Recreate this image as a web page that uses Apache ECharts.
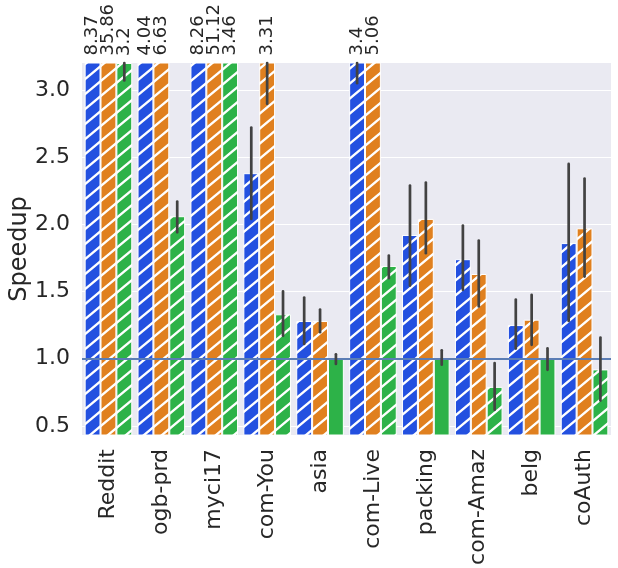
<!DOCTYPE html>
<html>
<head>
<meta charset="utf-8">
<script src="https://cdn.jsdelivr.net/npm/echarts@6/dist/echarts.min.js"></script>
<style>
html,body{margin:0;padding:0;background:#fff;}
#chart{width:618px;height:568px;}
</style>
</head>
<body>
<div id="chart"></div>
<script>
const categories = ['Reddit','ogb-prd','myci17','com-You','asia','com-Live','packing','com-Amaz','belg','coAuth'];
const blueValues   = [8.37, 4.04, 8.26, 2.38, 1.28, 3.4, 1.92, 1.74, 1.25, 1.86];
const orangeValues = [35.86, 6.63, 51.12, 3.31, 1.28, 5.06, 2.04, 1.63, 1.29, 1.97];
const greenValues  = [3.2, 2.06, 3.46, 1.33, 1.0, 1.69, 1.0, 0.79, 1.0, 0.92];
const blueErr   = [null, null, null, [2.04,2.72], [1.11,1.455], [3.05,3.75], [1.544,2.288], [1.512,1.99], [1.075,1.44], [1.281,2.449]];
const orangeErr = [null, null, null, [2.896,3.72], [1.197,1.365], null, [1.785,2.31], [1.388,1.879], [1.103,1.475], [1.611,2.34]];
const greenErr  = [[3.07,3.33], [1.94,2.169], null, [1.17,1.50], [0.961,1.032], [1.599,1.767], [0.955,1.062], [0.619,0.967], [0.917,1.077], [0.688,1.157]];
const greenHatched = [1,1,1,1,0,1,0,1,0,1];
const yTicks = [0.5, 1.0, 1.5, 2.0, 2.5, 3.0];
const Y_MIN = 0.432, Y_MAX = 3.2;

const COLORS = ['#2350E0', '#E0801F', '#2DB248'];

function hatch(color) {
  const W = 18, H = 15;
  const c = document.createElement('canvas');
  c.width = W; c.height = H;
  const g = c.getContext('2d');
  g.fillStyle = color; g.fillRect(0, 0, W, H);
  g.strokeStyle = '#ffffff'; g.lineWidth = 2.4;
  g.beginPath();
  for (let k = -1; k <= 1; k++) {
    g.moveTo(k * W - W * 0.2, H + H * 0.2); g.lineTo(k * W + W * 1.2, -H * 0.2);
  }
  g.stroke();
  return {image: c, repeat: 'repeat'};
}

const labelStyle = {
  show: true, position: 'top', rotate: 90, align: 'left', verticalAlign: 'middle',
  distance: 7, fontSize: 18, color: '#262626', fontFamily: 'DejaVu Sans',
  formatter: p => String(p.value)
};

function barData(values, colorIdx, hatchFlags) {
  return values.map((v, i) => {
    const hatched = hatchFlags ? hatchFlags[i] : 1;
    return {
      value: v,
      itemStyle: { color: hatched ? hatch(COLORS[colorIdx]) : COLORS[colorIdx] },
      label: v >= Y_MAX ? labelStyle : { show: false }
    };
  });
}

function errData(errs, seriesIdx) {
  const out = [];
  errs.forEach((e, i) => { if (e) out.push([i, e[0], e[1], seriesIdx]); });
  return out;
}

const errSeriesData = [].concat(errData(blueErr, 0), errData(orangeErr, 1), errData(greenErr, 2));

const chart = echarts.init(document.getElementById('chart'));
chart.setOption({
  backgroundColor: '#ffffff',
  animation: false,
  grid: { left: 82, right: 7, top: 63, bottom: 133, show: true, backgroundColor: '#EAEAF2', borderWidth: 0,
          containLabel: false, outerBoundsMode: 'none' },
  xAxis: {
    type: 'category', data: categories,
    axisLine: { show: false }, axisTick: { show: false },
    axisLabel: { rotate: 90, fontSize: 22, color: '#262626', fontFamily: 'DejaVu Sans', margin: 14, interval: 0 },
    splitLine: { show: false }
  },
  yAxis: {
    type: 'value', min: Y_MIN, max: Y_MAX,
    name: 'Speedup', nameLocation: 'middle', nameRotate: 90, nameGap: 50, nameMoveOverlap: false,
    nameTextStyle: { fontSize: 24, color: '#262626', fontFamily: 'DejaVu Sans' },
    axisLine: { show: false },
    axisTick: { show: false, customValues: yTicks },
    axisLabel: { fontSize: 22, color: '#262626', fontFamily: 'DejaVu Sans', margin: 12, customValues: yTicks, formatter: v => v.toFixed(1) },
    splitLine: { show: true, lineStyle: { color: '#ffffff', width: 1.2 } }
  },
  series: [
    { type: 'bar', data: barData(blueValues, 0), barGap: '0%', barCategoryGap: '10%',
      itemStyle: { borderColor: '#ffffff', borderWidth: 1 } },
    { type: 'bar', data: barData(orangeValues, 1), barGap: '0%', barCategoryGap: '10%',
      itemStyle: { borderColor: '#ffffff', borderWidth: 1 } },
    { type: 'bar', data: barData(greenValues, 2, greenHatched), barGap: '0%', barCategoryGap: '10%',
      itemStyle: { borderColor: '#ffffff', borderWidth: 1 },
      markLine: { silent: true, symbol: 'none', label: { show: false },
        lineStyle: { color: '#5B7DB5', width: 2, type: 'solid' },
        data: [{ yAxis: 1.0 }] } },
    { type: 'custom', z: 5, data: errSeriesData,
      renderItem: function (params, api) {
        const idx = api.value(0);
        const lo = Math.max(api.value(1), Y_MIN);
        const hi = Math.min(api.value(2), Y_MAX);
        const s = api.value(3);
        const band = api.size([1, 0])[0];
        const bw = band * 0.9 / 3;
        const p1 = api.coord([idx, lo]);
        const p2 = api.coord([idx, hi]);
        const x = p1[0] + (s - 1) * bw;
        return { type: 'line', shape: { x1: x, y1: p1[1], x2: x, y2: p2[1] },
          style: { stroke: '#424242', lineWidth: 2.7, lineCap: 'round' } };
      }
    }
  ]
});
</script>
</body>
</html>
